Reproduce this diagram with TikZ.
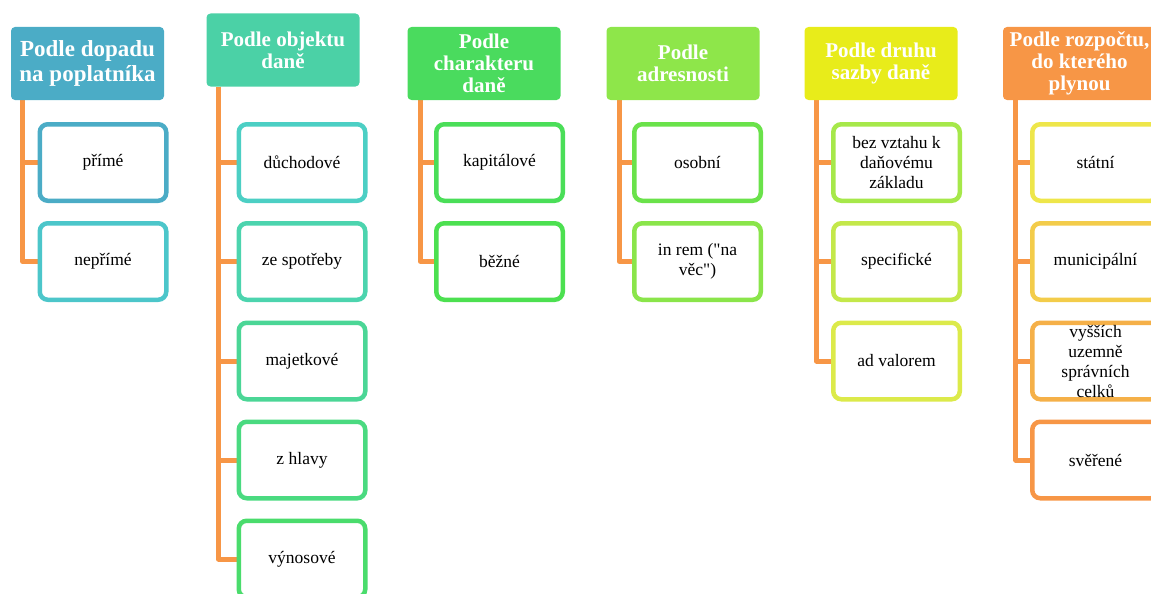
\documentclass[tikz,border=0pt]{standalone}
\usepackage{fontspec}
\setmainfont{Liberation Serif}[Ligatures=TeXOff]
\usetikzlibrary{backgrounds}
\definecolor{hA}{HTML}{4BACC6}
\definecolor{hB}{HTML}{4BD1A6}
\definecolor{hC}{HTML}{4ADB5E}
\definecolor{hD}{HTML}{8EE64A}
\definecolor{hE}{HTML}{E8EC1A}
\definecolor{hF}{HTML}{F79646}
\definecolor{cA1}{HTML}{4BACC6}
\definecolor{cA2}{HTML}{4CC6CA}
\definecolor{cB1}{HTML}{4CCFC4}
\definecolor{cB2}{HTML}{4CD4AE}
\definecolor{cB3}{HTML}{4BD696}
\definecolor{cB4}{HTML}{4ADA80}
\definecolor{cB5}{HTML}{4ADC6C}
\definecolor{cC1}{HTML}{4ADE58}
\definecolor{cC2}{HTML}{4CE050}
\definecolor{cD1}{HTML}{6AE24A}
\definecolor{cD2}{HTML}{8AE54A}
\definecolor{cE1}{HTML}{A6E84A}
\definecolor{cE2}{HTML}{C4E84A}
\definecolor{cE3}{HTML}{DCEA4A}
\definecolor{cF1}{HTML}{EEE64A}
\definecolor{cF2}{HTML}{F3CC4A}
\definecolor{cF3}{HTML}{F5B048}
\definecolor{cF4}{HTML}{F79646}
\definecolor{conncol}{HTML}{F79646}
\tikzset{
  hdr/.style={fill=#1, rounded corners=4pt, minimum width=153pt, minimum height=73pt,
    text=white, font=\bfseries\fontsize{21}{22}\selectfont, align=center, inner sep=0pt},
  childbox/.style={draw=#1, line width=4.5pt, rounded corners=8pt, fill=white,
    minimum width=126.5pt, minimum height=76.5pt,
    font=\fontsize{17.5}{20}\selectfont, align=center, inner sep=0pt},
  conn/.style={draw=conncol, line width=5pt, line join=round}
}
\begin{document}
\begin{tikzpicture}[x=1pt,y=-1pt]
\useasboundingbox (0,0) rectangle (1151,594);
\clip (0,0) rectangle (1151,594);
% headers
\node[hdr=hA, font=\bfseries\fontsize{23}{25}\selectfont] (h1) at (87.5,63.5) {Podle dopadu\\na poplatníka};
\node[hdr=hB] (h2) at (283,50) {Podle objektu\\daně};
\node[hdr=hC] (h3) at (484,63.5) {Podle\\charakteru\\daně};
\node[hdr=hD] (h4) at (683,63.5) {Podle\\adresnosti};
\node[hdr=hE] (h5) at (881,63.5) {Podle druhu\\sazby daně};
\node[hdr=hF] (h6) at (1079.5,63.5) {Podle rozpočtu,\\do kterého\\plynou};
% children col1
\node[childbox=cA1] (c11) at (103,162.5) {přímé};
\node[childbox=cA2] (c12) at (103,261.5) {nepřímé};
% col2
\node[childbox=cB1] (c21) at (302,162.5) {důchodové};
\node[childbox=cB2] (c22) at (302,261.5) {ze spotřeby};
\node[childbox=cB3] (c23) at (302,361) {majetkové};
\node[childbox=cB4] (c24) at (302,460) {z hlavy};
\node[childbox=cB5] (c25) at (302,559) {výnosové};
% col3
\node[childbox=cC1] (c31) at (499.5,162.5) {kapitálové};
\node[childbox=cC2] (c32) at (499.5,261.5) {běžné};
% col4
\node[childbox=cD1] (c41) at (697.5,162.5) {osobní};
\node[childbox=cD2] (c42) at (697.5,261.5) {in rem ("na\\věc")};
% col5
\node[childbox=cE1] (c51) at (896.5,162.5) {bez vztahu k\\daňovému\\základu};
\node[childbox=cE2] (c52) at (896.5,261.5) {specifické};
\node[childbox=cE3] (c53) at (896.5,361) {ad valorem};
% col6
\node[childbox=cF1] (c61) at (1095.5,162.5) {státní};
\node[childbox=cF2] (c62) at (1095.5,261.5) {municipální};
\node[childbox=cF3] (c63) at (1095.5,361) {vyšších\\uzemně\\správních\\celků};
\node[childbox=cF4] (c64) at (1095.5,460) {svěřené};
% connectors
\begin{scope}[on background layer]
\foreach \c in {c11,c12} \draw[conn] ([xshift=12pt]h1.south west) |- (\c.west);
\foreach \c in {c21,c22,c23,c24,c25} \draw[conn] ([xshift=12pt]h2.south west) |- (\c.west);
\foreach \c in {c31,c32} \draw[conn] ([xshift=13pt]h3.south west) |- (\c.west);
\foreach \c in {c41,c42} \draw[conn] ([xshift=13pt]h4.south west) |- (\c.west);
\foreach \c in {c51,c52,c53} \draw[conn] ([xshift=12pt]h5.south west) |- (\c.west);
\foreach \c in {c61,c62,c63,c64} \draw[conn] ([xshift=13pt]h6.south west) |- (\c.west);
\end{scope}
\end{tikzpicture}
\end{document}
